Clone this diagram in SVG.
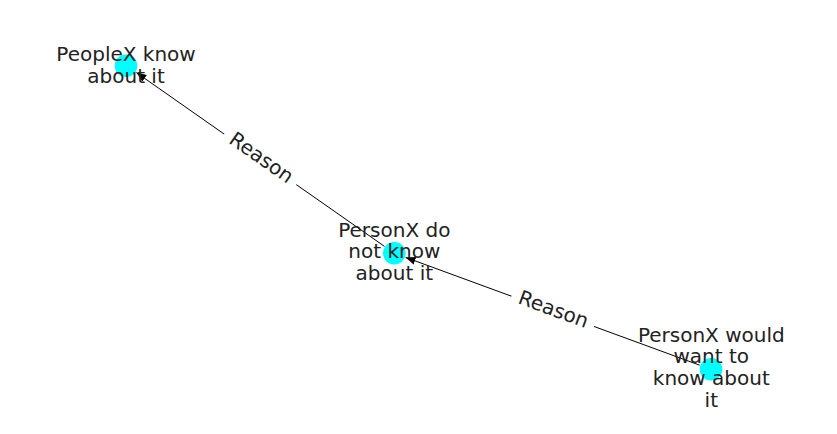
<svg xmlns="http://www.w3.org/2000/svg" width="837" height="434" viewBox="0 0 837 434">
<style>
.edge{stroke:#000;stroke-width:1;fill:none}
.node{fill:#00ffff}
.lbl{font-family:"DejaVu Sans","Liberation Sans",sans-serif;font-size:20px;fill:#222;text-anchor:middle}
.elbg{fill:#fff;stroke:none}
</style>
<defs>
<marker id="arr" viewBox="0 0 10 8" refX="10" refY="4" markerWidth="10" markerHeight="8" markerUnits="userSpaceOnUse" orient="auto">
<path d="M0,0 L10,4 L0,8 Z" fill="#000"/>
</marker>
</defs>
<rect width="837" height="434" fill="#fff"/>
<g id="connectors">
<line class="edge" x1="384.5" y1="246.4" x2="136.4" y2="72.6" marker-end="url(#arr)"/>
<line class="edge" x1="699.7" y1="365.2" x2="405.6" y2="257.4" marker-end="url(#arr)"/>
<g transform="translate(260.2,159.5) rotate(34.96)">
<rect class="elbg" x="-44" y="-13" width="88" height="26"/>
<text class="lbl" x="0" y="4.5">Reason</text>
</g>
<g transform="translate(552.7,311.3) rotate(20.12)">
<rect class="elbg" x="-44" y="-13" width="88" height="26"/>
<text class="lbl" x="0" y="4.5">Reason</text>
</g>
</g>
<g id="node-people-know">
<circle class="node" cx="126" cy="65.7" r="11.3"/>
<text class="lbl"><tspan x="126" y="61">PeopleX know</tspan><tspan x="126" y="82.5">about it</tspan></text>
</g>
<g id="node-personx-not-know">
<circle class="node" cx="394.3" cy="253.3" r="11.3"/>
<text class="lbl"><tspan x="394.3" y="236.7">PersonX do</tspan><tspan x="394.3" y="258.3">not know</tspan><tspan x="394.3" y="280">about it</tspan></text>
</g>
<g id="node-personx-want">
<circle class="node" cx="711" cy="369.3" r="11.3"/>
<text class="lbl"><tspan x="711.3" y="341.7">PersonX would</tspan><tspan x="711.3" y="363.3">want to</tspan><tspan x="711.3" y="385">know about</tspan><tspan x="711.3" y="406.7">it</tspan></text>
</g>
</svg>
